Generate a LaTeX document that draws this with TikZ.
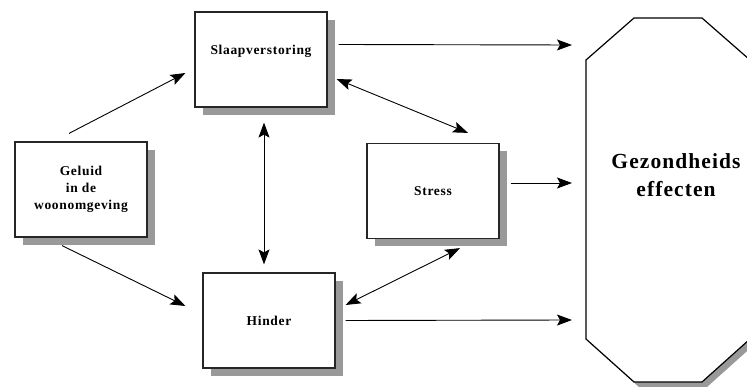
\documentclass[tikz,border=0pt]{standalone}
\usepackage{fontspec}
\setmainfont{Liberation Serif}
\newfontfamily\boxfont[LetterSpace=5]{Liberation Serif}
\usetikzlibrary{arrows.meta,shadows,calc}
\definecolor{shade}{gray}{0.6}
\definecolor{edge}{gray}{0.15}
\tikzset{
  boxtext/.style={font=\boxfont\bfseries\fontsize{13.5}{17}\selectfont},
  box/.style={draw=edge, line width=1.2pt, fill=white, minimum width=132pt,
    minimum height=95pt, inner sep=0pt, align=center, boxtext,
    drop shadow={shadow xshift=8pt, shadow yshift=-8pt, fill=shade, opacity=1}},
  arr/.style={-{Stealth[length=15pt,width=11pt,inset=3pt]}, line width=0.9pt, black},
  dbl/.style={{Stealth[length=15pt,width=11pt,inset=3pt]}-{Stealth[length=15pt,width=11pt,inset=3pt]}, line width=0.9pt, black},
  octo/.style={draw=black, line width=1.2pt, fill=white},
  octoshade/.style={fill=shade}
}
\begin{document}
\begin{tikzpicture}[x=1pt,y=-1pt]
\useasboundingbox (0,0) rectangle (747,387);
\clip (0,0) rectangle (747,387);
% health effects octagon
\fill[octoshade, shift={(5,5)}] (634,18) -- (702,18) -- (750,60) -- (750,339) -- (702,382) -- (634,382) -- (586,339) -- (586,60) -- cycle;
\path[octo] (634,18) -- (702,18) -- (750,60) -- (750,339) -- (702,382) -- (634,382) -- (586,339) -- (586,60) -- cycle;
\node[font=\boxfont\bfseries\fontsize{21.5}{28}\selectfont, align=center] (gez) at (676,175) {Gezondheids\\effecten};
\coordinate (g1) at (572,45);
\coordinate (g2) at (572,183);
\coordinate (g3) at (572,320);
% boxes
\node[box] (geluid) at (81,189.5) {Geluid\\in de\\woonomgeving};
\node[box, label={[boxtext, yshift=8pt]center:Slaapverstoring}] (slaap) at (261,59.5) {};
\node[box] (stress) at (433,191) {Stress};
\node[box] (hinder) at (269,320.5) {Hinder};
% connectors
\draw[arr] ([xshift=-12pt,yshift=8pt]geluid.north) -- ([xshift=-9pt,yshift=-13.5pt]slaap.west);
\draw[arr] ([xshift=-19pt,yshift=-8pt]geluid.south) -- ([xshift=-17pt,yshift=14.5pt]hinder.west);
\draw[dbl] ([xshift=3pt,yshift=-15pt]slaap.south) -- ([xshift=-5pt,yshift=8pt]hinder.north);
\draw[dbl] ([xshift=9pt,yshift=-19.5pt]slaap.east) -- ([xshift=35pt,yshift=10pt]stress.north);
\draw[dbl] ([xshift=27pt,yshift=-9pt]stress.south) -- ([xshift=10pt,yshift=15.5pt]hinder.east);
\draw[arr] ([xshift=11pt,yshift=15pt]slaap.east) -- (g1);
\draw[arr] ([xshift=11pt,yshift=8pt]stress.east) -- (g2);
\draw[arr] ([xshift=10pt]hinder.east) -- (g3);
\end{tikzpicture}
\end{document}
